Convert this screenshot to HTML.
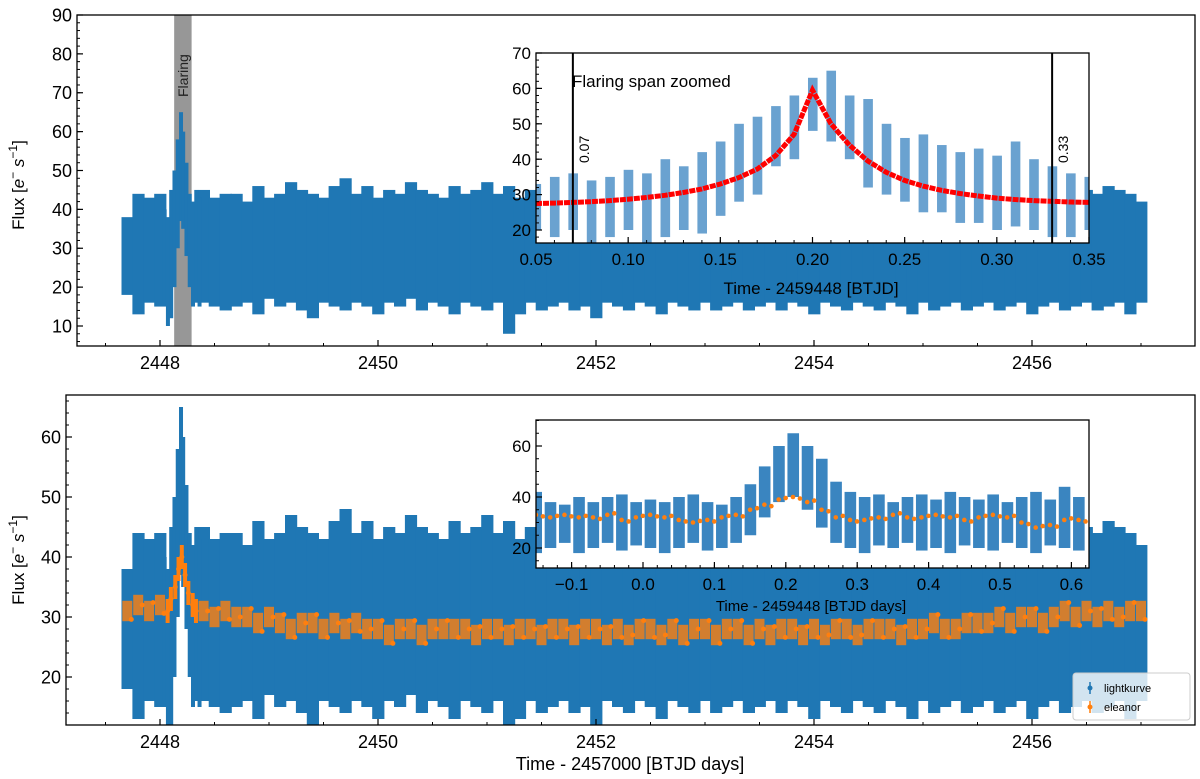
<!DOCTYPE html>
<html><head><meta charset="utf-8"><style>
html,body{margin:0;padding:0;background:#fff}
svg{display:block;font-family:"Liberation Sans","DejaVu Sans",sans-serif}
</style></head><body>
<svg id="fig" width="1200" height="779" viewBox="0 0 1200 779" xmlns="http://www.w3.org/2000/svg">
<defs>
<clipPath id="cTop"><rect x="77" y="15" width="1118" height="331"/></clipPath>
<clipPath id="cBot"><rect x="66" y="395" width="1129" height="330"/></clipPath>
<clipPath id="cIT"><rect x="536" y="53" width="553" height="190"/></clipPath>
<clipPath id="cIB"><rect x="536" y="420" width="553" height="148"/></clipPath>
</defs>
<g id="topPanel"></g>
<g id="botPanel"></g>
</svg>
<script>
// ---- data ----
const mainT0 = 2447.7, mainStep = 0.1;
const mainHi = [38,44,43,44,44,44,42,45,43,44, 44,42,46,43,44,47,45,44,43,46, 48,44,46,43,45,44,47,45,44,43, 46,44,45,47,44,46,43,45,44,42, 46,45,44,48,45,43,44,46,44,45, 43,44,47,45,44,43,46,44,45,44, 43,46,45,44,47,44,45,43,44,46, 45,44,43,47,45,44,46,44,43,45, 47,44,46,43,45,44,46,43,45,44, 46,45,44,42];
const mainLo = [18,13,16,15,16,14,12,16,15,14, 15,16,13,17,15,16,14,12,16,15, 14,16,15,13,16,15,17,14,16,15, 13,16,15,14,16,8,13,16,14,15, 16,14,15,12,16,15,14,16,15,13, 16,15,14,16,14,15,16,14,15,16, 14,16,15,13,16,15,14,16,15,14, 16,15,13,16,14,15,16,14,15,16, 14,15,16,13,15,16,14,15,16,14, 15,16,13,16];
const flareT = [2448.04,2448.07,2448.10,2448.13,2448.16,2448.19,2448.21,2448.24,2448.27,2448.30,2448.33,2448.36];
const flareHi = [40,38,45,50,58,65,60,52,44,42,45,43];
const flareLo = [16,10,12,20,30,37,35,28,20,15,16,15];
const eleanorMain = [31,32,31,32,33,38,34,31,30,31, 30,30,29,30,29,28,29,29,28,29, 28,29,28,28,27,28,28,27,28,28, 28,28,27,28,28,27,28,28,27,28, 28,27,28,28,27,28,27,28,28,27, 28,27,28,28,27,28,28,27,28,27, 28,28,27,28,27,28,28,27,28,28, 28,27,28,28,29,28,28,29,29,29, 30,29,30,30,29,30,31,30,31,30, 31,30,31,31];
const eleanorFlareT = [2448.07,2448.10,2448.14,2448.17,2448.20,2448.23,2448.26,2448.30,2448.33];
const eleanorFlare = [31,33,35,38,40,37,34,32,31];
const insetT0 = 0.05, insetStep = 0.01;
const insetHi = [33,35,36,34,35,37,36,40,38,42,45,50,52,55,58,63,65,58,57,50,46,47,44,42,43,41,45,40,38,36,35];
const insetLo = [20,18,20,15,18,20,16,18,20,19,24,28,30,38,40,48,45,40,32,30,28,25,25,22,22,20,21,20,18,18,20];
const modelFlux = [27.5,27.6,27.8,28.0,28.3,28.7,29.2,29.8,30.6,31.6,33.0,34.8,37.2,41,47,59.5,50,44,39.5,36.3,34,32.4,31.2,30.3,29.6,29.0,28.6,28.3,28.1,27.9,27.8];
const binT0 = -0.15, binStep = 0.02;
const binHi = [42,38,37,40,38,40,41,38,39,38,40,41,38,37,40,45,52,60,65,60,55,46,42,40,41,38,40,41,39,42,40,39,41,38,40,42,39,44,40];
const binLo = [18,20,22,18,20,22,19,21,20,18,20,22,19,20,22,25,32,38,40,35,28,22,20,18,21,20,22,19,20,18,21,20,19,22,20,18,21,20,19];
const binEleanor = [33,32,33,32,32,33,31,32,33,32,31,30,31,32,33,35,37,39,40,38,35,32,31,31,32,33,32,32,33,32,31,32,33,32,30,28,29,31,31];
const topYTicks = [10,20,30,40,50,60,70,80,90];
const botYTicks = [20,30,40,50,60];
const xTicks = [2448,2450,2452,2454,2456];
const itXTicks = [0.05,0.10,0.15,0.20,0.25,0.30,0.35];
const itYTicks = [20,30,40,50,60,70];
const ibXTicks = [-0.1,0.0,0.1,0.2,0.3,0.4,0.5,0.6];
const ibYTicks = [20,40,60];

// ---- scales ----
const X = t => 160 + (t-2448)*109;
const Yt = f => 15 + (90-f)*3.8875;
const Yb = f => 437 + (60-f)*6.0;
const Xi = t => 536 + (t-0.05)*1843.3;
const Yi = f => 53 + (70-f)*3.54;
const Xj = t => 643 + t*714;
const Yj = f => 446 + (60-f)*2.55;

const NS='http://www.w3.org/2000/svg';
function mk(tag, attrs, parent){const e=document.createElementNS(NS,tag);for(const k in attrs)e.setAttribute(k,attrs[k]);parent.appendChild(e);return e;}
const topG=document.getElementById('topPanel'), botG=document.getElementById('botPanel');

function band(parent, ts, his, los, xs, ys, color, w, name, skip){
  const g=mk('g',{},parent);
  
  
  for(let i=0;i<ts.length;i++){
    if(skip && skip(ts[i])) continue;
    const x=xs(ts[i]);
    const r=mk('rect',{x:x-w/2,y:ys(his[i]),width:w+0.6,height:Math.max(1,ys(los[i])-ys(his[i])),fill:color},g);
    
    
  }
  return g;
}
function axes(parent, x0,y0,x1,y1, xt, xmin, xs, yt, ymin, ys, xfmt, yfmt, fs, nameP){
  const f=mk('rect',{x:x0,y:y0,width:x1-x0,height:y1-y0,fill:'none',stroke:'#000','stroke-width':1.3},parent);
  
  
  xmin.forEach(v=>{const p=xs(v); if(p>x0&&p<x1) mk('line',{x1:p,x2:p,y1:y1,y2:y1-3,stroke:'#000','stroke-width':1},parent);});
  ymin.forEach(v=>{const p=ys(v); if(p>y0&&p<y1) mk('line',{x1:x0,x2:x0+3,y1:p,y2:p,stroke:'#000','stroke-width':1},parent);});
  xt.forEach(v=>{const p=xs(v); mk('line',{x1:p,x2:p,y1:y1,y2:y1-6,stroke:'#000','stroke-width':1.2},parent);
    const t=mk('text',{x:p,y:y1+fs+5,'font-size':fs,'text-anchor':'middle',fill:'#000'},parent); t.textContent=xfmt(v);
    
    });
  yt.forEach(v=>{const p=ys(v); mk('line',{x1:x0,x2:x0+6,y1:p,y2:p,stroke:'#000','stroke-width':1.2},parent);
    const t=mk('text',{x:x0-5,y:p+fs*0.36,'font-size':fs,'text-anchor':'end',fill:'#000'},parent); t.textContent=yfmt(v);
    
    });
}
function range(a,b,s){const r=[];for(let v=a;v<=b+1e-9;v+=s)r.push(+v.toFixed(4));return r;}
const mainTs = mainHi.map((_,i)=>+(mainT0+i*mainStep).toFixed(3));
const inFlare = t => t>2448.05 && t<2448.35;

// ===== TOP PANEL =====
const gTop=mk('g',{'clip-path':'url(#cTop)'},topG);
const fl=mk('rect',{x:X(2448.13),y:15,width:X(2448.29)-X(2448.13),height:331,fill:'#8c8c8c','fill-opacity':0.9},gTop);


band(gTop, mainTs, mainHi, mainLo, X, Yt, '#1f77b4', 11.6, 'lightkurve-series', inFlare);
band(gTop, flareT, flareHi, flareLo, X, Yt, '#1f77b4', 3.4, 'flare-series');
const flt=mk('text',{x:0,y:0,'font-size':14,transform:`translate(${X(2448.21)+5},97) rotate(-90)`,fill:'#222'},topG);
flt.textContent='Flaring';


axes(topG,77,15,1195,346,xTicks,range(2447.5,2457,0.5),X,topYTicks,range(6,90,2),Yt,v=>String(v),v=>String(v),18,'top');
const yl1=mk('text',{transform:'translate(24,185) rotate(-90)','font-size':17,'text-anchor':'middle'},topG);
yl1.innerHTML='Flux [<tspan font-style="italic">e</tspan><tspan dy="-7" font-size="12">−</tspan><tspan dy="7"> </tspan><tspan font-style="italic">s</tspan><tspan dy="-7" font-size="12">−1</tspan><tspan dy="7">]</tspan>';



// top inset
mk('rect',{x:536,y:53,width:553,height:190,fill:'#fff'},topG);
const gIT=mk('g',{'clip-path':'url(#cIT)'},topG);
const insetTs=insetHi.map((_,i)=>+(insetT0+i*insetStep).toFixed(3));
band(gIT, insetTs, insetHi, insetLo, Xi, Yi, '#6aa2d0', 9, 'inset-flare-series');
const red=mk('g',{},gIT);


mk('polyline',{points:insetTs.map((t,i)=>Xi(t)+','+Yi(modelFlux[i])).join(' '),fill:'none',stroke:'#ff0000','stroke-width':5,'stroke-dasharray':'6 1'},red);
[0.07,0.33].forEach(v=>{const l=mk('line',{x1:Xi(v),x2:Xi(v),y1:53,y2:243,stroke:'#000','stroke-width':2},topG);
  
  
  const t=mk('text',{transform:`translate(${Xi(v)+16},${163}) rotate(-90)`,'font-size':14},topG);t.textContent=v.toFixed(2);
  
  });
const fz=mk('text',{x:572,y:87,'font-size':17},topG);fz.textContent='Flaring span zoomed';


axes(topG,536,53,1089,243,itXTicks,range(0.05,0.35,0.01),Xi,itYTicks,range(18,70,2),Yi,v=>v.toFixed(2),v=>String(v),17,'top-inset');
const ixl=mk('text',{x:811,y:294,'font-size':17,'text-anchor':'middle'},topG);ixl.textContent='Time - 2459448 [BTJD]';



// ===== BOTTOM PANEL =====
const gBot=mk('g',{'clip-path':'url(#cBot)'},botG);
band(gBot, mainTs, mainHi, mainLo, X, Yb, '#1f77b4', 11.6, 'lightkurve-series-bottom', inFlare);
band(gBot, flareT, flareHi, flareLo, X, Yb, '#1f77b4', 3.4, 'flare-series-bottom');
const oe=mk('g',{},gBot);


mainTs.forEach((t,i)=>{ if(inFlare(t)) return; const v=eleanorMain[i];
  mk('rect',{x:X(t)-5,y:Yb(v+1.7),width:10,height:Yb(v-1.7)-Yb(v+1.7),fill:'#ff7f0e','fill-opacity':0.8},oe);
  mk('circle',{cx:X(t)+4,cy:Yb(v+(i%3-1)*1.4),r:2.5,fill:'#ff7f0e'},oe);});
eleanorFlareT.forEach((t,i)=>{const v=eleanorFlare[i];
  mk('rect',{x:X(t)-2,y:Yb(v+2),width:4,height:Yb(v-2)-Yb(v+2),fill:'#ff7f0e'},oe);
  mk('circle',{cx:X(t),cy:Yb(v),r:2.5,fill:'#ff7f0e'},oe);});
axes(botG,66,395,1195,725,xTicks,range(2447.5,2457,0.5),X,botYTicks,range(12,66,2),Yb,v=>String(v),v=>String(v),18,'bottom');
const yl2=mk('text',{transform:'translate(24,560) rotate(-90)','font-size':17,'text-anchor':'middle'},botG);
yl2.innerHTML='Flux [<tspan font-style="italic">e</tspan><tspan dy="-7" font-size="12">−</tspan><tspan dy="7"> </tspan><tspan font-style="italic">s</tspan><tspan dy="-7" font-size="12">−1</tspan><tspan dy="7">]</tspan>';


const xl=mk('text',{x:630,y:770,'font-size':18,'text-anchor':'middle'},botG);xl.textContent='Time - 2457000 [BTJD days]';



// bottom inset
mk('rect',{x:536,y:420,width:553,height:148,fill:'#fff'},botG);
const gIB=mk('g',{'clip-path':'url(#cIB)'},botG);
const binTs=binHi.map((_,i)=>+(binT0+i*binStep).toFixed(3));
band(gIB, binTs, binHi, binLo, Xj, Yj, '#3a85c0', 11, 'inset-lightkurve-series');
const ob=mk('g',{},gIB);


binTs.forEach((t,i)=>{const v=binEleanor[i];
  mk('circle',{cx:Xj(t),cy:Yj(v),r:2.3,fill:'#ff7f0e'},ob);
  mk('circle',{cx:Xj(t)+7,cy:Yj(v+((i%2)?0.6:-0.6)),r:2.3,fill:'#ff7f0e'},ob);});
axes(botG,536,420,1089,568,ibXTicks,range(-0.14,0.62,0.02),Xj,ibYTicks,range(15,70,5),Yj,v=>(v<0?'−':'')+Math.abs(v).toFixed(1),v=>String(v),17,'bottom-inset');
const jxl=mk('text',{x:811,y:611,'font-size':15,'text-anchor':'middle'},botG);jxl.textContent='Time - 2459448 [BTJD days]';



// legend
const lg=mk('g',{},botG);


mk('rect',{x:1073,y:673,width:117,height:47,rx:3,fill:'#fff','fill-opacity':0.8,stroke:'#ccc'},lg);
[['lightkurve','#1f77b4',689],['eleanor','#ff7f0e',708]].forEach(([n,c,y])=>{
  const e=mk('g',{},lg);
  
  
  mk('line',{x1:1090,x2:1090,y1:y-7,y2:y+5,stroke:c,'stroke-width':1.5},e);
  mk('circle',{cx:1090,cy:y-1,r:2.5,fill:c},e);
  const t=mk('text',{x:1104,y:y+3,'font-size':11},e);t.textContent=n;});
</script>
</body></html>
